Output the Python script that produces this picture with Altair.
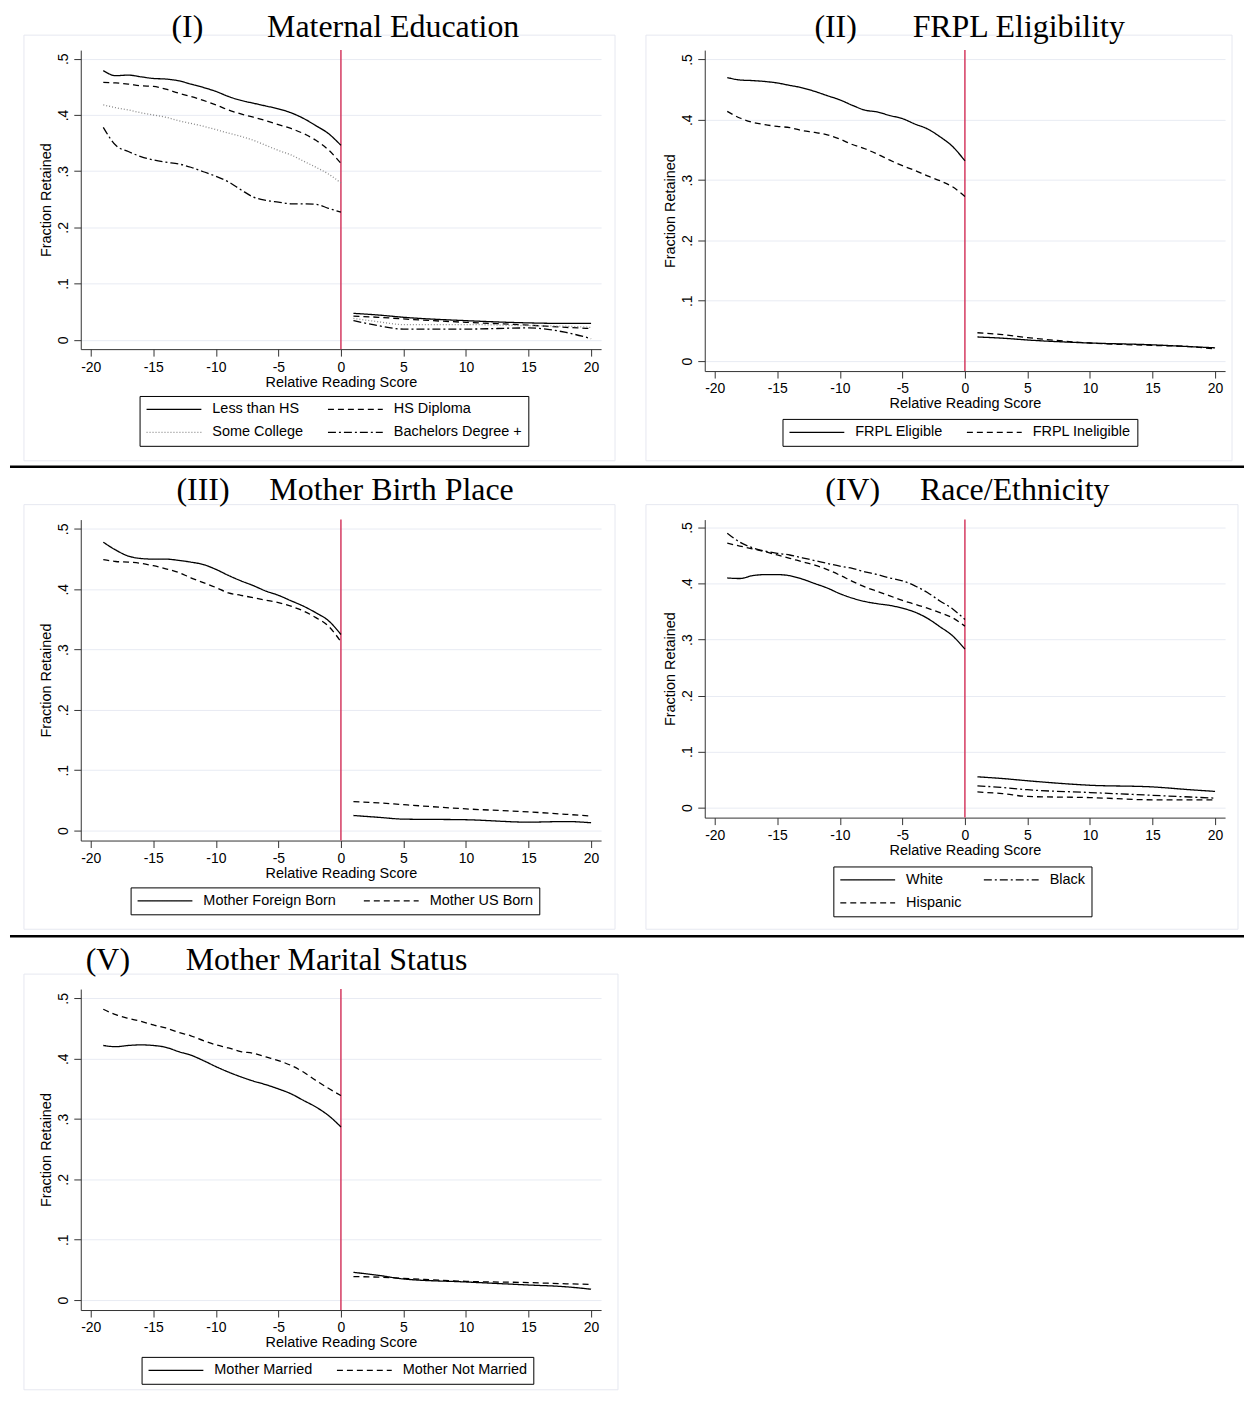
import altair as alt
import pandas as pd

LEFT_X = list(range(-19, 1))
RIGHT_X = [1, 3, 5, 10, 15, 18, 20]

# ---------------- Panel I: Maternal Education ----------------
ed_groups = ["Less than HS", "HS Diploma", "Some College", "Bachelors Degree +"]
ed_lhs_left = [.479, .470, .471, .468, .465, .464, .461, .455, .449, .442, .433, .426, .421, .416, .411, .404, .394, .381, .367, .346]
ed_hsd_left = [.458, .457, .455, .452, .451, .446, .439, .433, .426, .418, .409, .402, .396, .390, .383, .376, .367, .355, .338, .314]
ed_sc_left = [.418, .413, .409, .404, .400, .396, .390, .385, .380, .374, .368, .362, .355, .346, .337, .329, .318, .307, .295, .279]
ed_ba_left = [.378, .346, .335, .326, .320, .316, .313, .307, .299, .291, .281, .267, .254, .248, .245, .242, .242, .241, .234, .227]
ed_lhs_right = [.047, .044, .040, .034, .030, .029, .029]
ed_hsd_right = [.042, .040, .037, .031, .026, .022, .020]
ed_sc_right = [.038, .032, .027, .027, .025, .024, .022]
ed_ba_right = [.034, .025, .019, .019, .021, .013, .002]

# ---------------- Panel II: FRPL Eligibility ----------------
frpl_groups = ["FRPL Eligible", "FRPL Ineligible"]
frpl_elig_left = [.470, .466, .465, .4635, .461, .457, .453, .447, .440, .433, .424, .416, .413, .407, .402, .393, .385, .372, .356, .332]
frpl_inel_left = [.414, .403, .396, .392, .389, .387, .382, .379, .375, .368, .359, .352, .343, .333, .324, .316, .307, .299, .289, .273]
frpl_elig_right = [.040, .038, .035, .030, .027, .024, .022]
frpl_inel_right = [.047, .044, .039, .030, .026, .024, .020]

# ---------------- Panel III: Mother Birth Place ----------------
birth_groups = ["Mother Foreign Born", "Mother US Born"]
birth_foreign_left = [.478, .465, .455, .451, .450, .450, .448, .445, .441, .433, .423, .414, .406, .397, .390, .381, .372, .361, .348, .325]
birth_us_left = [.449, .446, .445, .443, .439, .434, .428, .419, .411, .403, .394, .390, .386, .382, .378, .372, .364, .353, .339, .313]
birth_foreign_right = [.025, .022, .019, .018, .014, .015, .013]
birth_us_right = [.048, .046, .043, .036, .031, .027, .024]

# ---------------- Panel IV: Race/Ethnicity ----------------
race_groups = ["White", "Black", "Hispanic"]
race_white_left = [.410, .409, .414, .416, .416, .414, .408, .400, .392, .382, .374, .368, .364, .361, .356, .349, .338, .323, .307, .283]
race_black_left = [.490, .474, .464, .458, .454, .451, .446, .441, .436, .431, .427, .421, .416, .410, .405, .396, .384, .369, .355, .336]
race_hisp_left = [.472, .467, .462, .457, .451, .445, .439, .433, .425, .415, .404, .394, .386, .378, .370, .363, .356, .348, .339, .324]
race_white_right = [.055, .052, .048, .040, .037, .032, .029]
race_black_right = [.039, .036, .032, .027, .022, .019, .017]
race_hisp_right = [.028, .025, .020, .018, .014, .014, .014]

# ---------------- Panel V: Mother Marital Status ----------------
mar_groups = ["Mother Married", "Mother Not Married"]
mar_married_left = [.422, .420, .422, .423, .422, .419, .412, .406, .397, .387, .378, .370, .363, .357, .350, .342, .331, .320, .306, .287]
mar_notm_left = [.482, .473, .467, .462, .456, .451, .444, .438, .430, .423, .418, .412, .409, .403, .397, .389, .378, .364, .351, .339]
mar_married_right = [.046, .041, .035, .030, .025, .022, .018]
mar_notm_right = [.039, .038, .036, .031, .029, .027, .026]

X_TICKS = [-20, -15, -10, -5, 0, 5, 10, 15, 20]
Y_TICKS = [0, 0.1, 0.2, 0.3, 0.4, 0.5]

SOLID = [1, 0]
DASH = [6, 4]
DOT = [1, 2]
DASHDOT = [8, 3, 2, 3]
RED = "#D43A60"
NBSP = "\u00a0"


def make_df(groups, lefts, rights):
    rows = []
    for g, lv, rv in zip(groups, lefts, rights):
        for x, v in zip(LEFT_X, lv):
            rows.append({"x": x, "y": v, "group": g, "side": "L"})
        for x, v in zip(RIGHT_X, rv):
            rows.append({"x": x, "y": v, "group": g, "side": "R"})
    return pd.DataFrame(rows)


def panel(roman, name, nsp, dx, groups, lefts, rights, dashes, colors,
          height, ydom, legx, legy, colpad, frame, toff, sep_y=None):
    df = make_df(groups, lefts, rights)
    xenc = alt.X("x:Q", scale=alt.Scale(domain=[-20.8, 20.8], nice=False, zero=False),
                 axis=alt.Axis(values=X_TICKS, title="Relative Reading Score", grid=False,
                               labelPadding=4, titlePadding=1, labelExpr="'' + datum.value"))
    yenc = alt.Y("y:Q", scale=alt.Scale(domain=ydom, nice=False, zero=False),
                 axis=alt.Axis(values=Y_TICKS, title="Fraction Retained", grid=True,
                               labelAngle=270, labelAlign="center", labelBaseline="bottom",
                               labelPadding=3, titlePadding=3,
                               labelExpr="datum.value == 0 ? '0' : replace(format(datum.value, '.1f'), '0.', '.')"))
    leg = alt.Legend(orient="none", legendX=legx, legendY=legy, direction="horizontal",
                     columns=2, symbolType="stroke", symbolSize=3025, symbolStrokeWidth=1.3,
                     clipHeight=15,
                     labelFont="Liberation Sans", labelFontSize=14.5, labelColor="black",
                     labelOffset=10, strokeColor="black", fillColor="white", padding=6,
                     rowPadding=7, columnPadding=colpad, title=None, labelLimit=400,
                     gridAlign="each")
    lines = alt.Chart(df).mark_line(strokeWidth=1.3, interpolate="monotone").encode(
        x=xenc,
        y=yenc,
        detail="side:N",
        strokeDash=alt.StrokeDash("group:N", scale=alt.Scale(domain=groups, range=dashes), legend=leg),
        color=alt.Color("group:N", scale=alt.Scale(domain=groups, range=colors), legend=leg),
    )
    vline = alt.Chart(pd.DataFrame({"x": [0]})).mark_rule(color=RED, strokeWidth=1.5).encode(x="x:Q")
    box = alt.Chart(pd.DataFrame({"k": [0]})).mark_rect(
        fillOpacity=0, stroke="#E6E8F0", strokeWidth=1).encode(
        x=alt.value(frame[0]), x2=alt.value(frame[1]), y=alt.value(frame[2]), y2=alt.value(frame[3]))
    layers = [box, vline, lines]
    if sep_y is not None:
        sep = alt.Chart(pd.DataFrame({"k": [0]})).mark_rule(color="black", strokeWidth=2.5).encode(
            x=alt.value(-71), x2=alt.value(1167), y=alt.value(sep_y))
        layers.append(sep)
    title = alt.TitleParams(text=roman + NBSP * nsp + name, anchor="start", frame="group", dx=dx,
                            offset=toff, font="Liberation Serif", fontSize=32, fontWeight="normal",
                            baseline="alphabetic", color="black")
    return alt.layer(*layers).properties(width=522, height=height, title=title)


p1 = panel("(I)", "Maternal Education", 8, 91, ed_groups,
           [ed_lhs_left, ed_hsd_left, ed_sc_left, ed_ba_left],
           [ed_lhs_right, ed_hsd_right, ed_sc_right, ed_ba_right],
           [SOLID, DASH, DOT, DASHDOT], ["black", "black", "#8a8a8a", "black"],
           300, [-0.0167, 0.5155], 59, 347, 23, (-57, 536, -15, 412), -34, sep_y=418)
p2 = panel("(II)", "FRPL Eligibility", 7, 110, frpl_groups,
           [frpl_elig_left, frpl_inel_left], [frpl_elig_right, frpl_inel_right],
           [SOLID, DASH], ["black", "black"],
           322, [-0.0165, 0.5155], 78, 370, 23, (-59, 529, -15, 412), -34)
p3 = panel("(III)", "Mother Birth Place", 5, 96, birth_groups,
           [birth_foreign_left, birth_us_left], [birth_foreign_right, birth_us_right],
           [SOLID, DASH], ["black", "black"],
           322, [-0.0165, 0.5155], 50, 369, 27, (-57, 536, -15, 411), -28, sep_y=418)
p4 = panel("(IV)", "Race/Ethnicity", 5, 121, race_groups,
           [race_white_left, race_black_left, race_hisp_left],
           [race_white_right, race_black_right, race_hisp_right],
           [SOLID, DASHDOT, DASH], ["black", "black", "black"],
           299, [-0.0178, 0.5142], 129, 348, 21, (-59, 535, -15, 411), -28)
p5 = panel("(V)", "Mother Marital Status", 7, 5, mar_groups,
           [mar_married_left, mar_notm_left], [mar_married_right, mar_notm_right],
           [SOLID, DASH], ["black", "black"],
           322, [-0.0165, 0.5155], 61, 369, 23, (-57, 539, -15, 402), -28)

chart = alt.concat(p1, p2, p3, p4, p5, columns=2, spacing={"row": 149, "column": 104},
                   bounds="flush", align="all").resolve_scale(
    strokeDash="independent", color="independent", x="independent", y="independent"
).resolve_legend(strokeDash="independent", color="independent").properties(
    padding={"left": 0, "top": 0, "right": 0, "bottom": 0}
).configure_view(stroke="transparent").configure_axis(
    labelFont="Liberation Sans", labelFontSize=14, labelColor="black",
    titleFont="Liberation Sans", titleFontSize=14.5, titleFontWeight="normal", titleColor="black",
    domainColor="#333333", domainWidth=1, tickColor="#333333", tickSize=7, tickWidth=1,
    gridColor="#E8EBF3", gridWidth=1
)

chart.save("out.html", embed_options={"renderer": "svg", "actions": False})
